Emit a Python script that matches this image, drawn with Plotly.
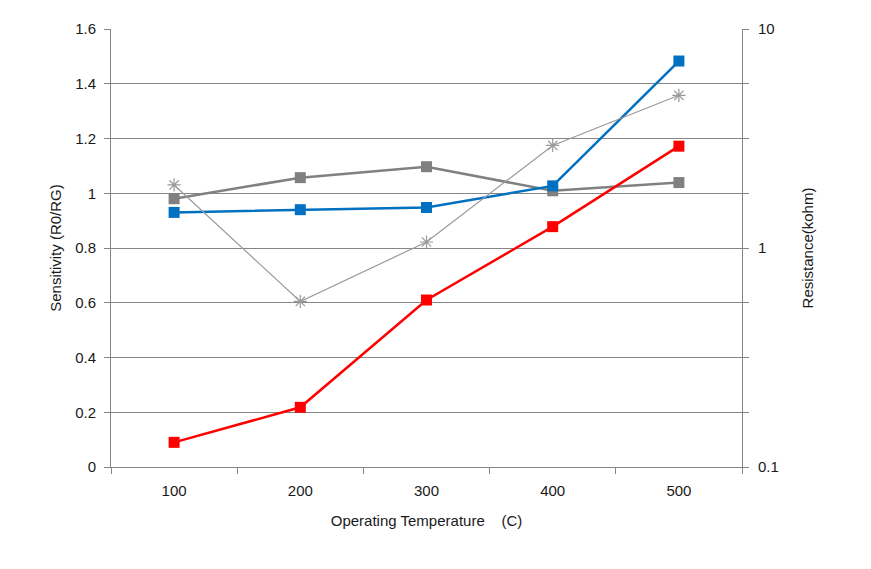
import plotly.graph_objects as go

temps = ["100", "200", "300", "400", "500"]
blue_sens = [0.93, 0.94, 0.948, 1.027, 1.483]
gray_sens = [0.98, 1.057, 1.097, 1.009, 1.039]
red_sens = [0.09, 0.218, 0.61, 0.878, 1.172]
resistance = [1.94, 0.57, 1.065, 2.94, 4.98]

left_ticks = [0, 0.2, 0.4, 0.6, 0.8, 1.0, 1.2, 1.4, 1.6]
left_labels = ["0", "0.2", "0.4", "0.6", "0.8", "1", "1.2", "1.4", "1.6"]
right_exps = [-1, -0.75, -0.5, -0.25, 0, 0.25, 0.5, 0.75, 1]
right_labels = ["0.1", "", "", "", "1", "", "", "", "10"]

font = "Liberation Sans, Arial, sans-serif"
axis_gray = "#868686"

fig = go.Figure()
fig.add_trace(go.Scatter(x=temps, y=gray_sens, mode="lines+markers",
                         line=dict(color="#808080", width=2.5),
                         marker=dict(symbol="square", size=11, color="#808080"),
                         showlegend=False))
fig.add_trace(go.Scatter(x=temps, y=blue_sens, mode="lines+markers",
                         line=dict(color="#0070C0", width=2.5),
                         marker=dict(symbol="square", size=11, color="#0070C0"),
                         showlegend=False))
fig.add_trace(go.Scatter(x=temps, y=red_sens, mode="lines+markers",
                         line=dict(color="#FF0000", width=2.5),
                         marker=dict(symbol="square", size=11, color="#FF0000"),
                         showlegend=False))
fig.add_trace(go.Scatter(x=temps, y=resistance, mode="lines+markers", yaxis="y2",
                         line=dict(color="#9a9a9a", width=1.2),
                         marker=dict(symbol="asterisk-open", size=11,
                                     line=dict(color="#808080", width=1.2)),
                         showlegend=False))

fig.update_layout(
    width=871, height=569,
    margin=dict(l=103, r=137, t=21, b=110),
    paper_bgcolor="white", plot_bgcolor="white",
    font=dict(family=font, size=15, color="#1a1a1a"),
    xaxis=dict(type="category", range=[-0.5, 4.5], tickson="boundaries",
               ticks="outside", ticklen=6,
               tickcolor=axis_gray, showline=True, linecolor=axis_gray, linewidth=1,
               showgrid=False, tickfont=dict(size=15), ticklabelstandoff=10,
               title=dict(text="Operating Temperature\u00a0\u00a0\u00a0\u00a0(C)",
                          font=dict(size=15), standoff=17)),
    yaxis=dict(range=[0, 1.6], tickvals=left_ticks, ticktext=left_labels,
               ticks="outside", ticklen=6, tickcolor=axis_gray,
               showline=True, linecolor=axis_gray, linewidth=1,
               showgrid=True, gridcolor=axis_gray, gridwidth=1, zeroline=False,
               tickfont=dict(size=15), ticklabelstandoff=5,
               title=dict(text="Sensitivity (R0/RG)", font=dict(size=15), standoff=9)),
    yaxis2=dict(type="log", range=[-1, 1], overlaying="y", side="right",
                tickvals=[10 ** e for e in right_exps], ticktext=right_labels,
                ticks="outside", ticklen=6, tickcolor=axis_gray,
                showline=True, linecolor=axis_gray, linewidth=1,
                showgrid=False, zeroline=False, tickfont=dict(size=15),
                ticklabelstandoff=6,
                title=dict(text="Resistance(kohm)", font=dict(size=15), standoff=24)),
)

fig.write_html("out.html")
